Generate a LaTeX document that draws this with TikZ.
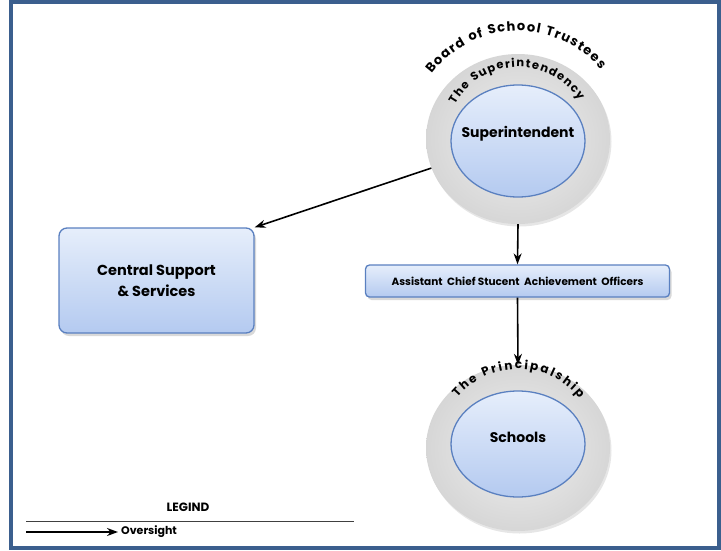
\documentclass[tikz,border=0pt]{standalone}
\usepackage{fontspec}
\setmainfont{Poppins}
\usetikzlibrary{arrows.meta, positioning, shapes.geometric, shadows, decorations.text}

\definecolor{framecol}{HTML}{3B5F8E}
\definecolor{hubline}{HTML}{5A80C0}
\definecolor{hubtop}{HTML}{E6EEFB}
\definecolor{hubbot}{HTML}{B4CAF0}

\begin{document}
\begin{tikzpicture}[x=1pt, y=1pt,
        ring/.style={ellipse, inner color=gray!12, outer color=gray!32, minimum width=184pt, minimum height=170pt,
                     drop shadow={opacity=0.2, shadow xshift=1.5pt, shadow yshift=-2.5pt}},
        hub/.style={ellipse, draw=hubline, line width=1.3pt, top color=hubtop, bottom color=hubbot,
                    minimum width=134pt, minimum height=112pt, inner sep=0pt,
                    label={[font=\bfseries\fontsize{14}{16}\selectfont, yshift=7pt]center:#1}},
        unit/.style={draw=hubline, line width=1.3pt, rounded corners=8pt, top color=hubtop, bottom color=hubbot,
                     align=center, drop shadow={opacity=0.3, shadow xshift=2pt, shadow yshift=-3pt}},
        oversight/.style={-{Stealth[length=11pt, width=8pt]}, line width=1.6pt},
        arctext/.style={decorate, decoration={text along path, text align=fit to path, text={#1}}}
    ]

        \useasboundingbox (0,0) rectangle (721,-550);
        \draw[framecol, line width=4pt] (11,-2) rectangle (719,-548);

        % superintendency
        \node[ring] (supring) at (518,-139) {};
        \node[hub=Superintendent] (sup) at (518,-141) {};
        \path[arctext={|\bfseries\fontsize{13}{13}\selectfont|Board of School Trustees}]
            (supring.center) ++(143:108) arc (143:40:108);
        \path[arctext={|\bfseries\fontsize{11.5}{11.5}\selectfont|The Superintendency}]
            (supring.center) ++(151:72) arc (151:32:72);

        % central support
        \node[unit, minimum width=195pt, minimum height=105pt, font=\bfseries\fontsize{14.5}{21}\selectfont]
            (css) at (156.5,-280.5) {Central Support\\ \& Services};

        % assistant chiefs
        \node[unit, rounded corners=4pt, minimum width=304pt, minimum height=32pt, font=\bfseries\fontsize{10.5}{12}\selectfont]
            (acsao) at (517.5,-281) {Assistant\ \ Chief Stucent\ \ Achievement\ \ Officers};

        % principalship
        \node[ring, minimum height=166pt] (schring) at (518,-448) {};
        \node[hub=Schools, minimum height=106pt] (sch) at (518,-444) {};
        \path[arctext={|\bfseries\fontsize{12}{12}\selectfont|The Principalship}]
            (schring.center) ++(140:79) arc (140:39:79);

        \draw[oversight] (supring) -- (css.north east);
        \draw[oversight] (supring.south) -- (acsao.north);
        \draw[oversight] (acsao.south) -- (schring.north);

        % legend
        \node[font=\bfseries\fontsize{12}{12}\selectfont] (lgd) at (188,-507) {LEGIND};
        \coordinate (lgl) at (26,-521);
        \coordinate (lgr) at (354,-521);
        \draw[line width=0.9pt, black!75] (lgl) -- (lgr);
        \coordinate (ovs) at (26,-532);
        \node[anchor=west, inner sep=3pt, font=\bfseries\fontsize{11}{11}\selectfont] (ovl) at (118,-532) {Oversight};
        \draw[oversight] (ovs) -- (ovl.west);

\end{tikzpicture}
\end{document}
